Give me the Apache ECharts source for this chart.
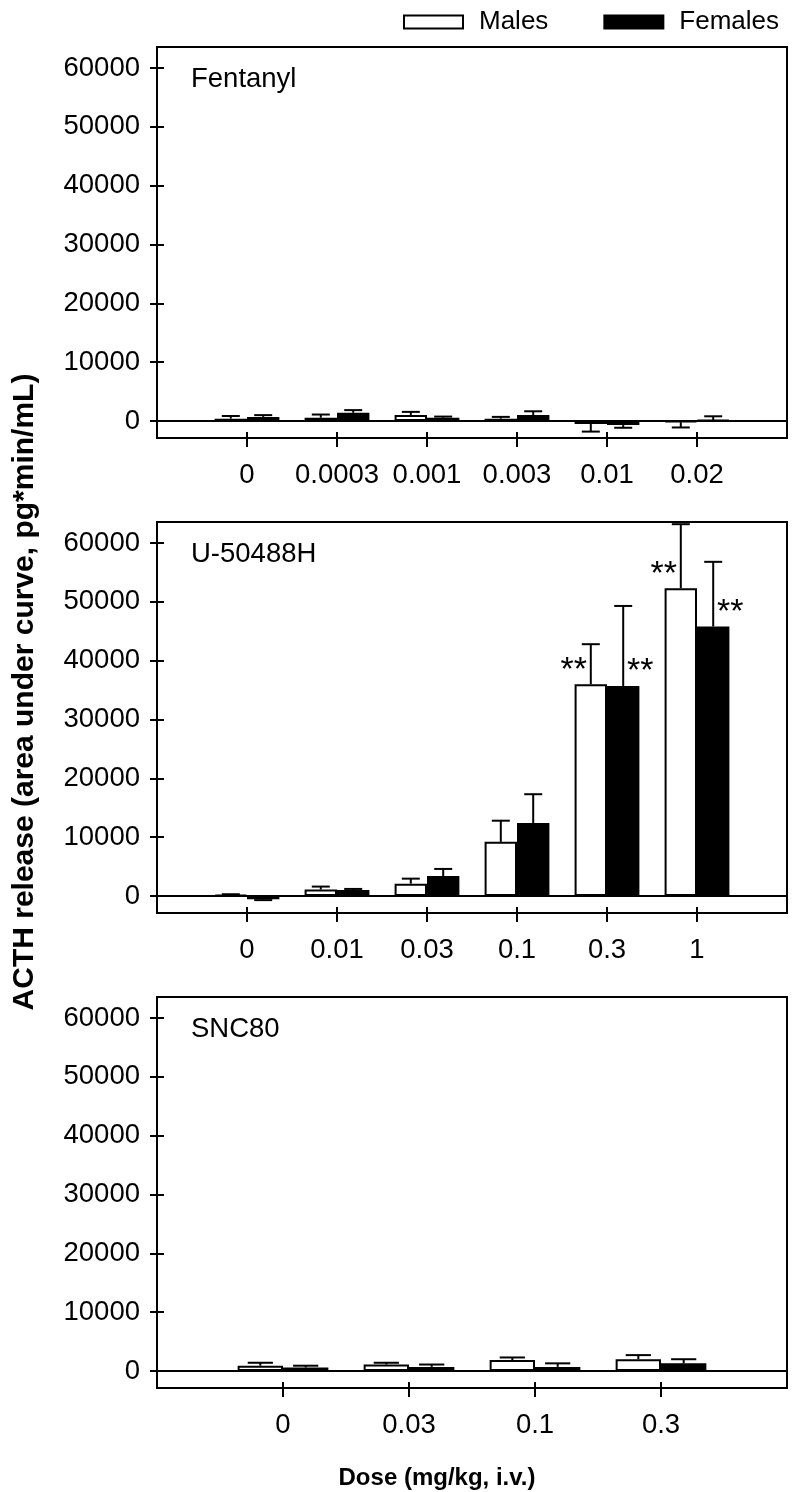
<!DOCTYPE html>
<html><head><meta charset="utf-8">
<script src="https://cdn.jsdelivr.net/npm/echarts@6/dist/echarts.min.js"></script>
<style>html,body{margin:0;padding:0;background:#fff}#c{width:800px;height:1492px}</style>
</head><body><div id="c"></div>
<script>
// ---- data ----
const fentDoses = ['0', '0.0003', '0.001', '0.003', '0.01', '0.02'];
const fentMales = [400, 550, 1000, 400, -500, -200];
const fentMalesErr = [450, 550, 550, 300, 1300, 900];
const fentFemales = [700, 1400, 550, 1000, -700, 150];
const fentFemalesErr = [300, 450, 200, 650, 450, 650];

const u50Doses = ['0', '0.01', '0.03', '0.1', '0.3', '1'];
const u50Males = [200, 1100, 2100, 9200, 36000, 52300];
const u50MalesErr = [100, 500, 850, 3600, 6800, 10900];
const u50Females = [-550, 1000, 3400, 12400, 35700, 45800];
const u50FemalesErr = [150, 200, 1200, 4900, 13600, 11000];
const u50MalesSig = ['', '', '', '', '**', '**'];
const u50FemalesSig = ['', '', '', '', '**', '**'];

const sncDoses = ['0', '0.03', '0.1', '0.3'];
const sncMales = [900, 1100, 1850, 2000];
const sncMalesErr = [500, 300, 450, 700];
const sncFemales = [600, 700, 700, 1300];
const sncFemalesErr = [300, 400, 600, 700];

const yTicks = [0, 10000, 20000, 30000, 40000, 50000, 60000];
const panelNames = ['Fentanyl', 'U-50488H', 'SNC80'];
const yTitle = 'ACTH release (area under curve, pg*min/mL)';
const xTitle = 'Dose (mg/kg, i.v.)';

// ---- build ----
const FONT = 'Liberation Sans';
const FS = 27.5;
const panels = [
  {doses: fentDoses, m: fentMales, me: fentMalesErr, f: fentFemales, fe: fentFemalesErr},
  {doses: u50Doses, m: u50Males, me: u50MalesErr, f: u50Females, fe: u50FemalesErr, ms: u50MalesSig, fs: u50FemalesSig},
  {doses: sncDoses, m: sncMales, me: sncMalesErr, f: sncFemales, fe: sncFemalesErr}
];
const tops = [47, 522, 997];
const YMIN = -2890, YMAX = 63570;
const grid = [], xAxis = [], yAxis = [], series = [];

function errRender(off) {
  return function (params, api) {
    const ci = api.value(0), v = api.value(1), e = api.value(2);
    const band = api.size([1, 0])[0];
    const x = api.coord([ci, 0])[0] + off * band;
    const y0 = api.coord([ci, v])[1];
    const y1 = api.coord([ci, v + (v >= 0 ? e : -e)])[1];
    const hw = 0.1 * band;
    return {type: 'group', children: [
      {type: 'line', shape: {x1: x, y1: y0, x2: x, y2: y1}, style: {stroke: '#000', lineWidth: 2}},
      {type: 'line', shape: {x1: x - hw, y1: y1, x2: x + hw, y2: y1}, style: {stroke: '#000', lineWidth: 2}}
    ]};
  };
}

panels.forEach((p, i) => {
  const cats = [''].concat(p.doses, ['']);
  const n = cats.length;
  grid.push({left: 157, right: 13, top: tops[i], height: 391, show: true, borderColor: '#000', borderWidth: 2});
  const tickFn = (idx) => idx > 0 && idx < n - 1;
  xAxis.push({type: 'category', gridIndex: i, position: 'bottom', data: cats, boundaryGap: false,
    axisLine: {onZero: false, lineStyle: {color: '#000', width: 2}},
    axisTick: {show: false},
    axisLabel: {interval: 0, margin: 23, color: '#000', fontFamily: FONT, fontSize: FS},
    splitLine: {show: false}});
  // tick-only axis, shifted up so its ticks cross the axis line
  xAxis.push({type: 'category', gridIndex: i, position: 'bottom', offset: -6, data: cats, boundaryGap: false,
    axisLine: {show: false, onZero: false}, axisLabel: {show: false},
    axisTick: {show: true, interval: tickFn, length: 15, lineStyle: {color: '#000', width: 2}},
    splitLine: {show: false}});
  yAxis.push({type: 'value', gridIndex: i, position: 'left', min: YMIN, max: YMAX,
    axisLine: {show: true, lineStyle: {color: '#000', width: 2}},
    axisTick: {show: false},
    axisLabel: {customValues: yTicks, margin: 17, color: '#000', fontFamily: FONT, fontSize: FS,
      formatter: (v) => String(v)},
    splitLine: {show: false}});
  yAxis.push({type: 'value', gridIndex: i, position: 'left', offset: -7, min: YMIN, max: YMAX,
    axisLine: {show: false}, axisLabel: {show: false},
    axisTick: {show: true, length: 14, customValues: yTicks, lineStyle: {color: '#000', width: 2}},
    splitLine: {show: false}});
  const mk = (vals, sig) => vals.map((v, k) => {
    const item = {value: [k + 1, v]};
    if (sig && sig[k]) item.label = {show: true, formatter: sig[k]};
    return item;
  });
  const lab = (dx) => ({show: false, position: 'top', distance: 0, offset: [dx, 3], color: '#000', fontFamily: FONT, fontSize: 34});
  series.push({type: 'bar', name: 'Males', xAxisIndex: 2 * i, yAxisIndex: 2 * i, barWidth: '36%', barGap: '0%',
    itemStyle: {color: '#fff', borderColor: '#000', borderWidth: 2}, data: mk(p.m, p.ms), label: lab(-17),
    markLine: {silent: true, symbol: ['none', 'none'], label: {show: false}, lineStyle: {color: '#000', type: 'solid', width: 2},
      data: [{yAxis: 0}]}, z: 2});
  series.push({type: 'bar', name: 'Females', xAxisIndex: 2 * i, yAxisIndex: 2 * i, barWidth: '36%', barGap: '0%',
    itemStyle: {color: '#000', borderColor: '#000', borderWidth: 2}, data: mk(p.f, p.fs), label: lab(17), z: 2});
  series.push({type: 'custom', name: 'errM' + i, xAxisIndex: 2 * i, yAxisIndex: 2 * i, renderItem: errRender(-0.18),
    data: p.m.map((v, k) => [k + 1, v, p.me[k]]), z: 3, silent: true});
  series.push({type: 'custom', name: 'errF' + i, xAxisIndex: 2 * i, yAxisIndex: 2 * i, renderItem: errRender(0.18),
    data: p.f.map((v, k) => [k + 1, v, p.fe[k]]), z: 3, silent: true});
});

const graphic = [];
panelNames.forEach((t, i) => {
  graphic.push({type: 'text', x: 191, y: tops[i] + 32, style: {text: t, fill: '#000', font: FS + 'px "' + FONT + '"', textVerticalAlign: 'middle'}});
});
graphic.push({type: 'text', x: 437, y: 1478, style: {text: xTitle, fill: '#000', font: 'bold 24px "' + FONT + '"', textAlign: 'center', textVerticalAlign: 'middle'}});
graphic.push({type: 'text', x: 25, y: 692, rotation: Math.PI / 2, style: {text: yTitle, fill: '#000', font: 'bold 30px "' + FONT + '"', textAlign: 'center', textVerticalAlign: 'middle'}});

const chart = echarts.init(document.getElementById('c'), null, {renderer: 'canvas'});
chart.setOption({
  animation: false,
  backgroundColor: '#fff',
  legend: {data: ['Males', 'Females'], left: 398, top: 4, itemWidth: 59, itemHeight: 13, itemGap: 55, icon: 'rect',
    textStyle: {color: '#000', fontFamily: FONT, fontSize: 26, padding: [0, 0, 0, 11]}},
  grid, xAxis, yAxis, series, graphic
});
</script></body></html>
